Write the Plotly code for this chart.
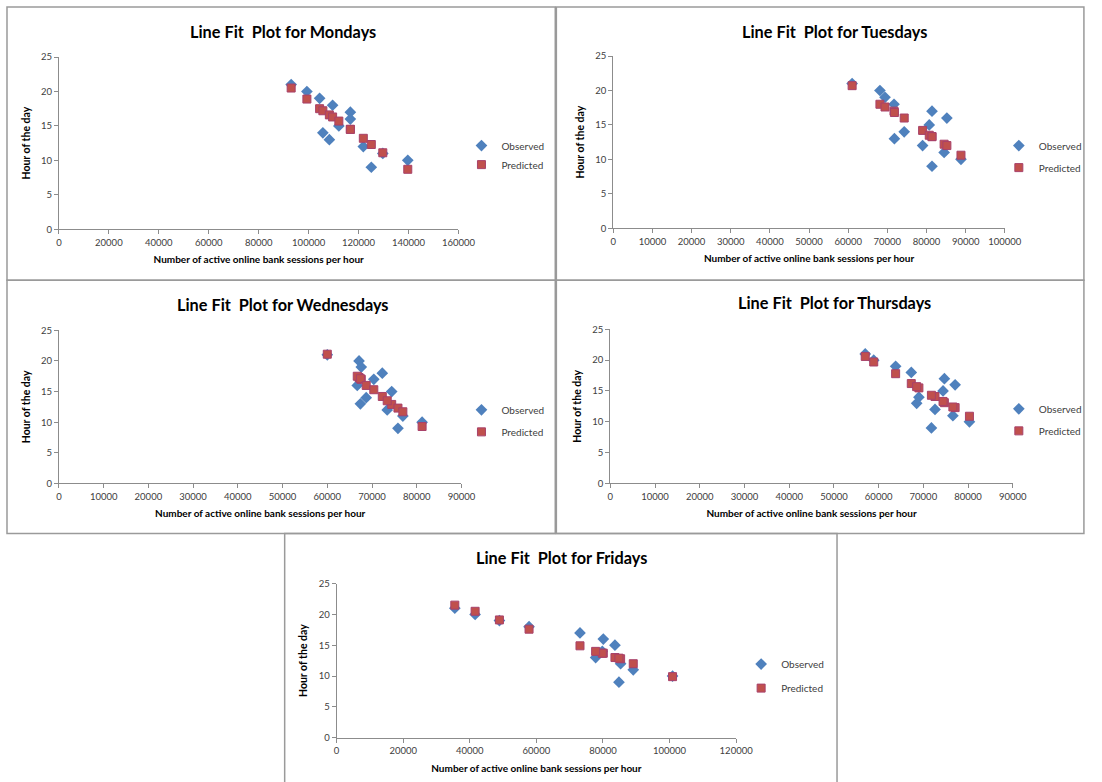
import plotly.graph_objects as go

W, H = 1102, 782

# ---------------- data ----------------
mon_sessions = [93000, 99300, 104400, 105700, 108300, 109600, 112100, 116700, 116700, 121900, 125100, 129700, 139700]
mon_observed = [21, 20, 19, 14, 13, 18, 15, 17, 16, 12, 9, 11, 10]
mon_predicted = [20.5, 18.9, 17.5, 17.2, 16.6, 16.3, 15.7, 14.5, 14.5, 13.2, 12.3, 11.1, 8.7]

tue_sessions = [61000, 68100, 69400, 71700, 71800, 74300, 79000, 80700, 81400, 81400, 84500, 85200, 88800]
tue_observed = [21, 20, 19, 18, 13, 14, 12, 15, 17, 9, 11, 16, 10]
tue_predicted = [20.7, 18.0, 17.6, 17.0, 16.8, 16.0, 14.2, 13.5, 13.3, 13.3, 12.2, 12.0, 10.6]

wed_sessions = [60000, 67100, 67600, 72300, 66700, 67400, 68700, 70400, 74400, 73400, 75800, 76900, 81200]
wed_observed = [21, 20, 19, 18, 16, 13, 14, 17, 15, 12, 9, 11, 10]
wed_predicted = [21.1, 17.3, 17.0, 14.2, 17.5, 17.1, 16.0, 15.3, 12.9, 13.5, 12.3, 11.7, 9.3]

thu_sessions = [57000, 58900, 63800, 67300, 74700, 77100, 74400, 69000, 68500, 72600, 76600, 80300, 71800]
thu_observed = [21, 20, 19, 18, 17, 16, 15, 14, 13, 12, 11, 10, 9]
thu_predicted = [20.6, 19.7, 17.8, 16.2, 13.1, 12.3, 13.3, 15.5, 15.7, 14.1, 12.4, 10.9, 14.3]

fri_sessions = [35500, 41600, 48900, 57800, 73100, 80100, 83600, 79800, 77800, 85300, 89100, 100900, 84800]
fri_observed = [21, 20, 19, 18, 17, 16, 15, 14, 13, 12, 11, 10, 9]
fri_predicted = [21.5, 20.5, 19.1, 17.6, 14.9, 13.7, 13.0, 13.7, 14.0, 12.8, 12.0, 9.9, 12.9]

days = ["Mondays", "Tuesdays", "Wednesdays", "Thursdays", "Fridays"]
x_max = [160000, 100000, 90000, 90000, 120000]
x_step = [20000, 10000, 10000, 10000, 20000]

series = [
    (mon_sessions, mon_observed, mon_predicted),
    (tue_sessions, tue_observed, tue_predicted),
    (wed_sessions, wed_observed, wed_predicted),
    (thu_sessions, thu_observed, thu_predicted),
    (fri_sessions, fri_observed, fri_predicted),
]

# ---------------- layout geometry (target pixels) ----------------
areas = [
    (59, 459, 57, 229),
    (614, 1006, 56, 228),
    (59, 462, 330, 483),
    (611, 1014, 329, 483),
    (337, 737, 583, 737),
]
boxes = [
    (7, 557, 7, 280),
    (557, 1100, 7, 280),
    (7, 557, 280, 533),
    (557, 1100, 280, 533),
    (285, 838, 533, None),   # bottom edge runs off the picture
]
title_pos = [(283, 31), (835, 31), (283, 304), (835, 302), (562, 557)]
legend_pos = [(462, 131), (1000, 131), (462, 395), (1000, 394), (742, 649)]
legend_gap = [0, 3, 3, 3, 5]

# rendering offset/scale compensation observed in the capture
SX, OX = 0.983, 3.0
SY, OY = 0.985, 6.0


def fx(t):
    return min(max((t - OX) / SX / W, 0.0), 1.0)


def fy(t):
    return min(max(1 - (t - OY) / SY / H, 0.0), 1.0)


BLUE = "#4F81BD"
RED = "#C0504D"
RED_EDGE = "#A8416A"
TXT = "#404040"
FONT = "Lato, 'Open Sans', sans-serif"

fig = go.Figure()
layout = dict(
    width=W, height=H, margin=dict(l=0, r=0, t=0, b=0, pad=0),
    paper_bgcolor="white", plot_bgcolor="white",
    showlegend=True, shapes=[], annotations=[],
    font=dict(family=FONT, color=TXT, size=9),
)

for i, (xs, obs, pred) in enumerate(series):
    n = "" if i == 0 else str(i + 1)
    xa, ya = "x" + n, "y" + n
    lg = "legend" + n
    fig.add_trace(go.Scatter(
        x=xs, y=obs, mode="markers", name="Observed", legendgroup="obs" + n,
        marker=dict(symbol="diamond", size=9, color=BLUE, line=dict(width=0)),
        xaxis=xa, yaxis=ya, legend=lg))
    fig.add_trace(go.Scatter(
        x=xs, y=pred, mode="markers", name="Predicted", legendgroup="pred" + n,
        marker=dict(symbol="square", size=8, color=RED, line=dict(width=1, color=RED_EDGE)),
        xaxis=xa, yaxis=ya, legend=lg))

    l, r, t, b = areas[i]
    axcommon = dict(showgrid=False, zeroline=False, showline=True, linecolor="#8c8c8c",
                    linewidth=1, ticks="outside", ticklen=4, tickcolor="#8c8c8c",
                    tickfont=dict(size=9.5, color=TXT, family=FONT))
    layout["xaxis" + n] = dict(
        axcommon, domain=[fx(l), fx(r)], range=[0, x_max[i]], dtick=x_step[i], tick0=0,
        tickformat="d", anchor=ya, fixedrange=True,
        title=dict(text="<b>Number of active online bank sessions per hour</b>",
                   font=dict(size=10, color="#000", family=FONT), standoff=9))
    layout["yaxis" + n] = dict(
        axcommon, domain=[fy(b), fy(t)], range=[0, 25], dtick=5, tick0=0,
        anchor=xa, fixedrange=True,
        title=dict(text="<b>Hour of the day</b>",
                   font=dict(size=10.5, color="#000", family=FONT), standoff=8))
    lx, ly = legend_pos[i]
    layout[lg] = dict(x=fx(lx), y=fy(ly), xanchor="left", yanchor="top",
                      bgcolor="rgba(0,0,0,0)", font=dict(size=10, color=TXT, family=FONT),
                      itemwidth=30, traceorder="grouped", tracegroupgap=legend_gap[i])

    bl, br, bt, bb = boxes[i]
    if bb is None:
        path = "M {a},{d} L {a},{c} L {b},{c} L {b},{d}".format(
            a=fx(bl), b=fx(br), c=fy(bt), d=-0.05)
    else:
        path = "M {a},{d} L {a},{c} L {b},{c} L {b},{d} Z".format(
            a=fx(bl), b=fx(br) - 0.001, c=fy(bt), d=fy(bb))
    layout["shapes"].append(dict(type="path", xref="paper", yref="paper", path=path,
                                 line=dict(color="#9a9a9a", width=1.5), layer="below"))
    tx, ty = title_pos[i]
    layout["annotations"].append(dict(
        text="<b>Line Fit  Plot for " + days[i] + "</b>", xref="paper", yref="paper",
        x=fx(tx), y=fy(ty), xanchor="center", yanchor="middle", showarrow=False,
        font=dict(size=16.3, color="#000", family=FONT)))

fig.update_layout(**layout)
fig.write_html(
    "out.html",
    config={"displayModeBar": False},
    post_script="document.body.style.margin='0';document.body.style.overflow='hidden';",
)
